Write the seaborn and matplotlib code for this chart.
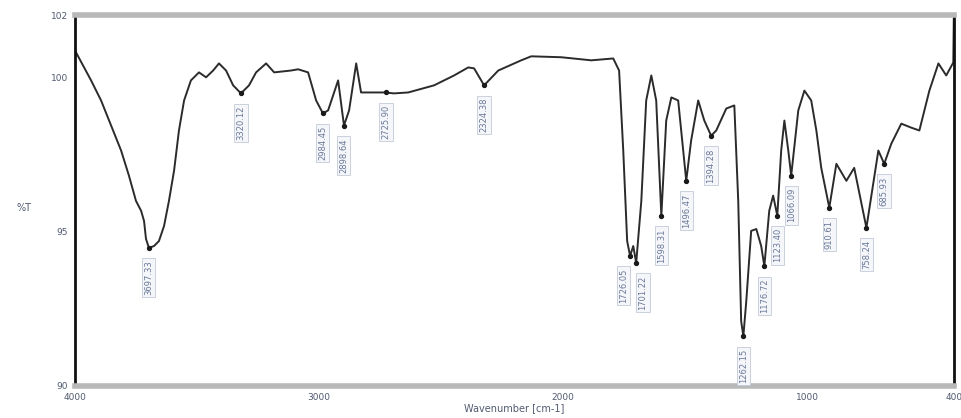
import matplotlib
matplotlib.use("Agg")
import matplotlib.pyplot as plt
import seaborn as sns
import pandas as pd

# ---- data ----
wavenumber = [4000, 3934, 3893, 3852, 3811, 3779, 3750, 3729, 3717, 3709, 3697, 3676, 3656, 3635,
              3615, 3594, 3574, 3553, 3525, 3492, 3463, 3434, 3410, 3381, 3352, 3320, 3287, 3258,
              3217, 3184, 3115, 3086, 3045, 3012, 2984, 2963, 2922, 2898, 2877, 2848, 2828, 2734,
              2693, 2635, 2529, 2447, 2389, 2365, 2324, 2266, 2172, 2131, 2008, 1885, 1795, 1771,
              1754, 1738, 1726, 1713, 1701, 1680, 1660, 1639, 1619, 1598, 1578, 1557, 1529, 1496,
              1476, 1447, 1422, 1394, 1373, 1332, 1299, 1283, 1271, 1262, 1250, 1230, 1209, 1189,
              1176, 1156, 1140, 1123, 1107, 1094, 1078, 1066, 1037, 1012, 984, 963, 943, 910, 881,
              840, 808, 758, 709, 685, 656, 615, 574, 541, 500, 463, 431, 402, 400]
transmittance = [100.86, 99.89, 99.24, 98.43, 97.62, 96.81, 95.99, 95.67, 95.34, 94.76, 94.47, 94.53,
                 94.69, 95.18, 95.99, 96.97, 98.27, 99.24, 99.89, 100.15, 99.99, 100.21, 100.44,
                 100.21, 99.73, 99.47, 99.73, 100.15, 100.44, 100.15, 100.21, 100.25, 100.15, 99.24,
                 98.82, 98.92, 99.89, 98.43, 98.92, 100.44, 99.50, 99.50, 99.47, 99.50, 99.73,
                 100.05, 100.31, 100.28, 99.73, 100.21, 100.54, 100.67, 100.64, 100.54, 100.60,
                 100.21, 97.62, 94.69, 94.21, 94.53, 93.98, 95.99, 99.24, 100.05, 99.24, 95.51,
                 98.59, 99.34, 99.24, 96.64, 97.94, 99.24, 98.59, 98.10, 98.27, 98.98, 99.08, 95.99,
                 92.10, 91.61, 92.75, 95.02, 95.08, 94.53, 93.88, 95.67, 96.16, 95.51, 97.62, 98.59,
                 97.62, 96.81, 98.92, 99.56, 99.24, 98.27, 97.06, 95.77, 97.19, 96.64, 97.06, 95.12,
                 97.62, 97.19, 97.84, 98.49, 98.36, 98.27, 99.56, 100.44, 100.05, 100.47, 101.9]

peak_wn = [3697.33, 3320.12, 2984.45, 2898.64, 2725.90, 2324.38, 1726.05, 1701.22, 1598.31,
           1496.47, 1394.28, 1262.15, 1176.72, 1123.40, 1066.09, 910.61, 758.24, 685.93]
peak_t = [94.47, 99.47, 98.82, 98.43, 99.50, 99.73, 94.21, 93.98, 95.51,
          96.64, 98.10, 91.61, 93.88, 95.51, 96.81, 95.77, 95.12, 97.19]

x_ticks = [4000, 3000, 2000, 1000, 400]
x_ticklabels = ["4000", "3000", "2000", "1000", "400"]
y_ticks = [90, 95, 100, 102]
y_ticklabels = ["90", "95", "100", "102"]

df = pd.DataFrame({"Wavenumber": wavenumber, "T": transmittance})

sns.set_theme(style="white")
fig = plt.figure(figsize=(9.61, 4.18), dpi=100)
ax = fig.add_axes([0.078, 0.0766, 0.9145, 0.887])

sns.lineplot(data=df, x="Wavenumber", y="T", ax=ax, color="#2b2b2b", linewidth=1.4, sort=False)

# peak markers and labels
ax.scatter(peak_wn, peak_t, s=8, color="#1a1a1a", zorder=4)
for i, (wn, t) in enumerate(zip(peak_wn, peak_t)):
    dx = 0
    if i == 6:
        dx = -5
    elif i == 7:
        dx = 5
    ax.annotate(f"{wn:.2f}", xy=(wn, t), xytext=(dx, -9), textcoords="offset points",
                rotation=90, ha="center", va="top", fontsize=6, color="#6a7898",
                bbox=dict(boxstyle="square,pad=0.25", facecolor="#f4f6fa", edgecolor="#c3cad8",
                          linewidth=0.6))

ax.set_xlim(4000, 400)
ax.set_ylim(90, 102)
ax.set_xticks(x_ticks)
ax.set_xticklabels(x_ticklabels)
ax.set_yticks(y_ticks)
ax.set_yticklabels(y_ticklabels)
ax.set_xticks([2500, 1500, 500], minor=True)
ax.set_yticks([92.5, 97.5], minor=True)
ax.tick_params(axis="both", which="major", direction="in", length=4, width=1,
               color="#555555", labelsize=6.5, labelcolor="#505a70", pad=5)
ax.tick_params(axis="both", which="minor", direction="in", length=2, width=1, color="#888888")

ax.set_xlabel("Wavenumber [cm-1]", fontsize=7, color="#505a70", labelpad=1)
ax.set_ylabel("")
ax.text(-0.058, 0.48, "%T", transform=ax.transAxes, fontsize=7, color="#505a70",
        ha="center", va="center")

ax.spines["top"].set_color("#b8b8b8")
ax.spines["top"].set_linewidth(4)
ax.spines["bottom"].set_color("#b8b8b8")
ax.spines["bottom"].set_linewidth(4)
ax.spines["left"].set_color("#111111")
ax.spines["left"].set_linewidth(2)
ax.spines["right"].set_color("#111111")
ax.spines["right"].set_linewidth(2)
ax.grid(False)

fig.savefig("out.png", dpi=100)
